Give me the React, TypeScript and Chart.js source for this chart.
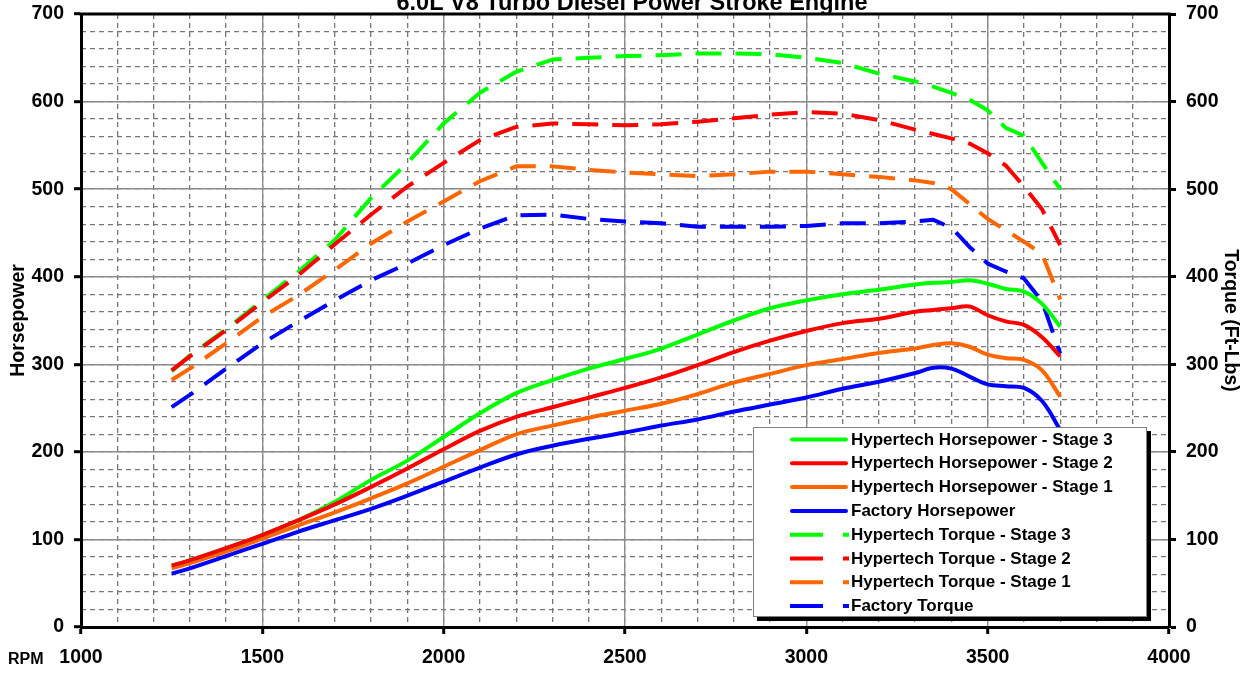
import { useEffect, useRef } from "react";
import { Chart, registerables } from "chart.js";

Chart.register(...registerables);

const FONT = "'Liberation Sans', Arial, Helvetica, sans-serif";

const chartTitle = "6.0L V8 Turbo Diesel Power Stroke Engine";
const leftAxisTitle = "Horsepower";
const rightAxisTitle = "Torque (Ft-Lbs)";
const xAxisCaption = "RPM";

const rpm = [1250, 1300, 1400, 1500, 1600, 1700, 1800, 1900, 2000, 2100, 2200, 2300, 2400, 2500, 2600, 2700, 2800, 2900, 3000, 3100, 3200, 3300, 3350, 3400, 3450, 3500, 3550, 3600, 3650, 3700];

const hpStage3 = [70, 76, 90, 105, 122, 143, 168, 190, 217, 244, 267, 282, 295, 306, 318, 334, 350, 364, 373, 380, 385, 391, 393, 394, 396, 392, 386, 383, 369, 343];
const hpStage2 = [70, 76, 90, 105, 122, 140, 160, 181, 203, 224, 240, 251, 262, 273, 285, 299, 314, 327, 338, 347, 352, 360, 362, 364, 366, 356, 349, 345, 331, 309];
const hpStage1 = [67, 73, 86, 101, 116, 131, 147, 164, 183, 202, 220, 230, 239, 247, 255, 266, 279, 289, 299, 306, 313, 318, 322, 324, 320, 311, 307, 305, 293, 263];
const hpFactory = [61, 67, 81, 95, 109, 122, 135, 150, 166, 182, 197, 207, 215, 222, 230, 237, 246, 254, 262, 272, 280, 290, 296, 295, 286, 277, 275, 273, 258, 225];

const tqStage3 = [292, 310, 340, 373, 406, 442, 490, 530, 575, 610, 634, 648, 650, 652, 653, 655, 655, 654, 650, 644, 632, 623, 617, 610, 602, 590, 570, 561, 530, 500];
const tqStage2 = [293, 309, 339, 371, 402, 437, 471, 503, 530, 556, 571, 575, 574, 573, 574, 577, 581, 585, 588, 586, 579, 568, 563, 558, 552, 541, 527, 503, 477, 436];
const tqStage1 = [282, 295, 324, 354, 379, 408, 438, 463, 486, 509, 526, 526, 522, 519, 517, 515, 517, 520, 520, 517, 514, 510, 507, 500, 483, 466, 453, 440, 426, 374];
const tqFactory = [251, 265, 295, 324, 349, 373, 396, 415, 436, 455, 470, 471, 466, 463, 461, 457, 457, 457, 458, 461, 461, 463, 465, 456, 434, 415, 406, 398, 372, 312];

const seriesLabels = [
  "Hypertech Horsepower - Stage 3",
  "Hypertech Horsepower - Stage 2",
  "Hypertech Horsepower - Stage 1",
  "Factory Horsepower",
  "Hypertech Torque - Stage 3",
  "Hypertech Torque - Stage 2",
  "Hypertech Torque - Stage 1",
  "Factory Torque",
];
const seriesValues = [hpStage3, hpStage2, hpStage1, hpFactory, tqStage3, tqStage2, tqStage1, tqFactory];
const seriesColors = ["#00FF00", "#FF0000", "#FF6600", "#0000FF", "#00FF00", "#FF0000", "#FF6600", "#0000FF"];
const seriesDashed = [false, false, false, false, true, true, true, true];

const overlayPlugin = {
  id: "overlay",
  afterDraw(chart: any) {
    const { ctx, chartArea: a } = chart;
    ctx.save();
    // top frame line
    ctx.strokeStyle = "#000";
    ctx.lineWidth = 3;
    ctx.beginPath();
    ctx.moveTo(a.left - 1.5, a.top);
    ctx.lineTo(a.right + 1.5, a.top);
    ctx.stroke();

    // title (partly cut off at top)
    ctx.fillStyle = "#000";
    ctx.font = `bold 23.5px ${FONT}`;
    ctx.textAlign = "center";
    ctx.textBaseline = "alphabetic";
    ctx.fillText(chartTitle, 632, 10);

    // RPM caption
    ctx.font = `bold 16px ${FONT}`;
    ctx.textAlign = "left";
    ctx.fillText(xAxisCaption, 8, 664);

    // legend box
    const bx = 753, by = 427, bw = 394, bh = 190;
    ctx.fillStyle = "#000";
    ctx.fillRect(bx + 4, by + 4, bw, bh);
    ctx.fillStyle = "#fff";
    ctx.fillRect(bx, by, bw, bh);
    ctx.strokeStyle = "#808080";
    ctx.lineWidth = 1;
    ctx.strokeRect(bx + 0.5, by + 0.5, bw - 1, bh - 1);

    const ds = chart.data.datasets;
    ctx.font = `bold 17px ${FONT}`;
    ctx.textBaseline = "middle";
    ctx.textAlign = "left";
    for (let i = 0; i < ds.length; i++) {
      const y = 439.5 + i * 23.8;
      const d = ds[i];
      ctx.strokeStyle = d.borderColor;
      ctx.lineWidth = 4;
      if (d.borderDash && d.borderDash.length) {
        ctx.setLineDash([33, 20]);
        ctx.lineCap = "butt";
        ctx.beginPath();
        ctx.moveTo(790, y);
        ctx.lineTo(849, y);
        ctx.stroke();
      } else {
        ctx.setLineDash([]);
        ctx.lineCap = "round";
        ctx.beginPath();
        ctx.moveTo(792, y);
        ctx.lineTo(846, y);
        ctx.stroke();
      }
      ctx.setLineDash([]);
      ctx.fillStyle = "#000";
      ctx.fillText(d.label, 851, y + 0.5);
    }
    ctx.restore();
  },
};

const zeroPad = (s: any) => {
  s.paddingTop = 0;
  s.paddingBottom = 0;
  s.paddingLeft = 0;
  s.paddingRight = 0;
};

export default function App() {
  const ref = useRef<HTMLCanvasElement | null>(null);

  useEffect(() => {
    if (!ref.current) return;
    Chart.defaults.font.family = FONT;
    const datasets = seriesLabels.map((label, i) => ({
      label,
      data: rpm.map((r, j) => ({ x: r, y: seriesValues[i][j] })),
      borderColor: seriesColors[i],
      backgroundColor: seriesColors[i],
      borderWidth: 4,
      borderDash: seriesDashed[i] ? [26, 14] : [],
      borderCapStyle: "butt" as const,
      borderJoinStyle: "round" as const,
      pointRadius: 0,
      pointHoverRadius: 0,
      tension: seriesDashed[i] ? 0 : 0.35,
      fill: false,
      xAxisID: "x",
      yAxisID: seriesDashed[i] ? "y2" : "y",
      order: seriesColors[i] === "#FF0000" ? 0 : 1,
    }));

    const minorGrid = { color: "#777777", lineWidth: 1.3, drawTicks: false };
    const tickFont = { size: 19.5, weight: "bold" as const, family: FONT };
    const titleFont = { size: 19.5, weight: "bold" as const, family: FONT };
    const plain = (v: any) => String(v);

    const chart = new Chart(ref.current, {
      type: "line",
      data: { datasets },
      plugins: [overlayPlugin],
      options: {
        animation: false,
        responsive: false,
        maintainAspectRatio: false,
        layout: { padding: { top: 14, left: 0, right: 0, bottom: 0 } },
        plugins: { legend: { display: false }, title: { display: false }, tooltip: { enabled: false } },
        scales: {
          xm: {
            type: "linear", position: "bottom", min: 1000, max: 4000,
            ticks: { display: false, stepSize: 100, autoSkip: false, maxTicksLimit: 100 },
            grid: minorGrid,
            border: { display: false, dash: [5, 4] },
            afterFit: (s: any) => { s.height = 0; zeroPad(s); },
          },
          ym: {
            type: "linear", position: "left", min: 0, max: 700,
            ticks: { display: false, stepSize: 20, autoSkip: false, maxTicksLimit: 100 },
            grid: minorGrid,
            border: { display: false, dash: [5, 4] },
            afterFit: (s: any) => { s.width = 0; zeroPad(s); },
          },
          x: {
            type: "linear", position: "bottom", min: 1000, max: 4000,
            ticks: { stepSize: 500, autoSkip: false, maxRotation: 0, font: tickFont, color: "#000", padding: 12, callback: plain },
            grid: { color: "#8c8c8c", lineWidth: 1.4, tickColor: "#000", tickWidth: 3, tickLength: 7 },
            border: { color: "#000", width: 3 },
            afterFit: (s: any) => { s.height = 54; zeroPad(s); },
          },
          y: {
            type: "linear", position: "left", min: 0, max: 700,
            ticks: { stepSize: 100, autoSkip: false, font: tickFont, color: "#000", padding: 10, callback: plain },
            grid: { color: "#8c8c8c", lineWidth: 1.4, tickColor: "#000", tickWidth: 3, tickLength: 7 },
            border: { color: "#000", width: 3 },
            title: { display: true, text: leftAxisTitle, font: titleFont, color: "#000", padding: { top: 7, bottom: 0 } },
            afterFit: (s: any) => { s.width = 81; zeroPad(s); },
          },
          y2: {
            type: "linear", position: "right", min: 0, max: 700,
            ticks: { stepSize: 100, autoSkip: false, font: tickFont, color: "#000", padding: 10, callback: plain },
            grid: { drawOnChartArea: false, tickColor: "#000", tickWidth: 3, tickLength: 7 },
            border: { color: "#000", width: 3 },
            title: { display: true, text: rightAxisTitle, font: titleFont, color: "#000", padding: { top: 7, bottom: 0 } },
            afterFit: (s: any) => { s.width = 80; zeroPad(s); },
          },
        },
      } as any,
    });
    return () => chart.destroy();
  }, []);

  return (
    <div style={{ position: "fixed", left: 0, top: 0, width: 1249, height: 681, background: "#fff" }}>
      <canvas ref={ref} width={1249} height={681} style={{ display: "block", width: 1249, height: 681 }} />
    </div>
  );
}
